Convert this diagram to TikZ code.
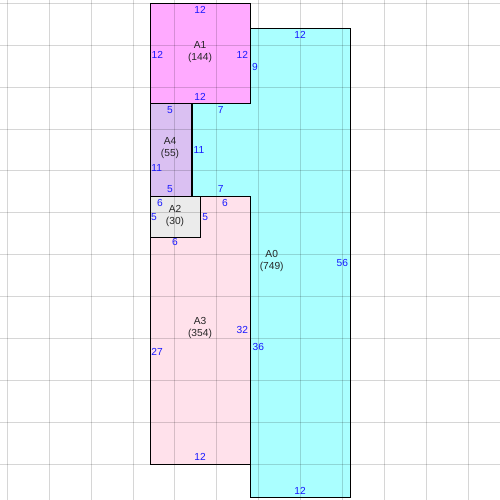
\documentclass[tikz,border=0pt]{standalone}
\usepackage{fontspec}
\setmainfont{Liberation Sans}
\definecolor{cA1}{RGB}{255,170,255}
\definecolor{cA0}{RGB}{170,255,255}
\definecolor{cA4}{RGB}{218,192,242}
\definecolor{cA2}{RGB}{235,235,235}
\definecolor{cA3}{RGB}{255,225,235}
\definecolor{gridc}{RGB}{214,214,214}
\definecolor{lblc}{RGB}{25,25,255}
\begin{document}
\begin{tikzpicture}[x=1pt,y=-1pt,
  box/.style={draw=black,line width=1pt},
  lbl/.style={text=lblc,font=\fontsize{10.2}{12}\selectfont,inner sep=0pt},
  areaname/.style={text=black!85,font=\fontsize{10.2}{12}\selectfont,align=center,inner sep=0pt}]
\useasboundingbox (0,0) rectangle (500,500);
\fill[white] (0,0) rectangle (500,500);
% fills
\fill[cA0] (250.3,28.3) -- (350.3,28.3) -- (350.3,497.3) -- (250.3,497.3) -- (250.3,196) -- (191.7,196) -- (191.7,103.3) -- (250.3,103.3) -- cycle;
\fill[cA1] (150.3,3.3) rectangle (250.3,103.3);
\fill[cA4] (150.3,103.3) rectangle (191.7,196);
\fill[cA3] (150.3,196) rectangle (250.3,464);
\fill[cA2] (150.3,196) rectangle (200.3,237.3);
% grid
\begin{scope}[blend mode=multiply]
\foreach \k in {0,...,11} {
  \draw[gridc,line width=1pt] ({7.3+41.9*\k},0) -- ({7.3+41.9*\k},500);
  \draw[gridc,line width=1pt] (0,{3.3+41.9*\k}) -- (500,{3.3+41.9*\k});
}
\end{scope}
% boxes
\draw[box] (250.3,28.3) -- (350.3,28.3) -- (350.3,497.3) -- (250.3,497.3) -- (250.3,196) -- (191.7,196) -- (191.7,103.3) -- (250.3,103.3) -- cycle;
\coordinate (A0) at (300.3,262.8);
\node[box,minimum width=100pt,minimum height=100pt,inner sep=0pt,anchor=north west] (A1) at (150.3,3.3) {};
\node[box,minimum width=41.4pt,minimum height=92.7pt,inner sep=0pt,anchor=north west] (A4) at (150.3,103.3) {};
\node[box,minimum width=100pt,minimum height=268pt,inner sep=0pt,anchor=north west] (A3) at (150.3,196) {};
\node[box,minimum width=50pt,minimum height=41.3pt,inner sep=0pt,anchor=north west] (A2) at (150.3,196) {};
% names
\node[areaname] (nA1) at (200,52) {A1\\(144)};
\node[areaname] (nA4) at (170,148.5) {A4\\(55)};
\node[areaname] (nA2) at (175,215.5) {A2\\(30)};
\node[areaname] (nA3) at (200,328) {A3\\(354)};
\node[areaname] (nA0) at (271.7,261) {A0\\(749)};
% A1 labels
\node[lbl] (l1) at (200,10.3) {12};
\node[lbl] (l2) at (157.3,54.5) {12};
\node[lbl] (l3) at (242.3,54.5) {12};
\node[lbl] (l4) at (200,97.3) {12};
% A0 labels
\node[lbl] (l5) at (300,34.8) {12};
\node[lbl] (l6) at (255,67) {9};
\node[lbl] (l7) at (220.7,109.5) {7};
\node[lbl] (l8) at (199,150) {11};
\node[lbl] (l9) at (220.7,189) {7};
\node[lbl] (l10) at (342.3,263) {56};
\node[lbl] (l11) at (258.3,347) {36};
\node[lbl] (l12) at (300,491) {12};
% A4 labels
\node[lbl] (l13) at (170,110) {5};
\node[lbl] (l14) at (156.7,168) {11};
\node[lbl] (l15) at (170,189) {5};
% A2 labels
\node[lbl] (l16) at (160,203) {6};
\node[lbl] (l17) at (154,217.5) {5};
\node[lbl] (l18) at (205.3,217.5) {5};
\node[lbl] (l19) at (175,242) {6};
% A3 labels
\node[lbl] (l20) at (225,203) {6};
\node[lbl] (l21) at (157,351.5) {27};
\node[lbl] (l22) at (242.3,330) {32};
\node[lbl] (l23) at (200,457) {12};
\end{tikzpicture}
\end{document}
